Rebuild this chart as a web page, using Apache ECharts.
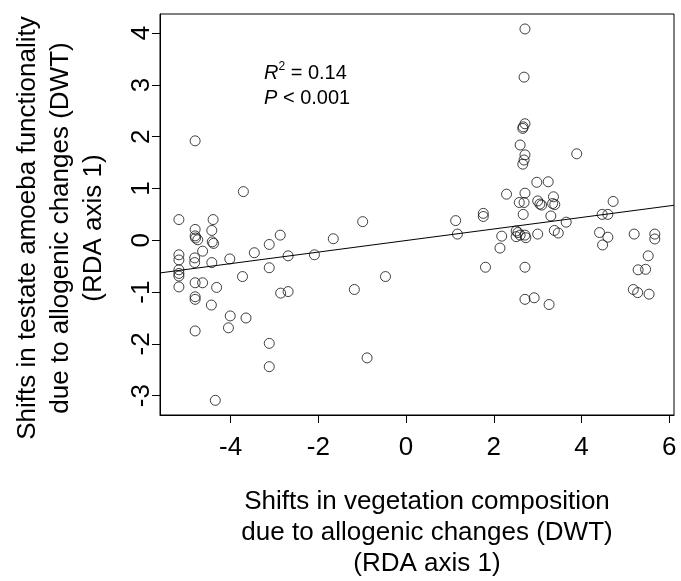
<!DOCTYPE html>
<html>
<head>
<meta charset="utf-8">
<script src="https://cdn.jsdelivr.net/npm/echarts@6/dist/echarts.min.js"></script>
<style>
  html, body { margin: 0; padding: 0; background: #fff; }
  #chart { width: 681px; height: 581px; }
</style>
</head>
<body>
<div id="chart"></div>
<script>
// x: shifts in vegetation composition (RDA axis 1)
let vegShift = [
  -4.81, -3.71, -5.18, -4.81, -4.40, -4.43, -4.81, -4.80, -4.75, -4.42,
  -4.39, -4.64, -5.18, -5.18, -4.82, -4.82, -4.43, -4.02, -3.46, -3.12,
  -2.87, -2.69, -2.09, -1.66, -0.99, -5.18, -5.18, -5.18, -5.18, -4.81,
  -4.64, -4.32, -3.73, -3.12, -2.86, -2.69, -1.18, -0.47, -4.81, -4.81,
  -4.44, -4.01, -3.65, -4.05, -4.81, -3.12, -3.12, -0.89, -4.35,
  2.71, 2.69, 2.71, 2.67, 2.66, 2.60, 2.71, 2.69, 2.66, 3.89,
  2.98, 3.24, 2.29, 2.71, 2.58, 2.69, 3.00, 3.05, 3.09, 3.36,
  3.34, 3.39, 2.67, 3.30, 3.65, 1.76, 1.76, 1.13, 1.17, 2.18,
  2.14, 2.51, 2.55, 2.60, 2.51, 2.71, 2.73, 3.00, 3.38, 3.47,
  1.81, 2.71, 2.71, 2.92, 3.26, 4.72, 4.47, 4.60, 4.41, 4.60,
  4.48, 5.20, 5.67, 5.67, 5.52, 5.29, 5.46, 5.18, 5.28, 5.54
];
// y: shifts in testate amoeba functionality (RDA axis 1)
let amoebaShift = [
  1.92, 0.94, 0.40, 0.21, 0.40, 0.19, 0.085, 0.045, 0.01, -0.03,
  -0.06, -0.21, -0.28, -0.38, -0.34, -0.43, -0.43, -0.36, -0.24, -0.08,
  0.10, -0.30, -0.28, 0.03, 0.36, -0.57, -0.64, -0.69, -0.90, -0.82,
  -0.82, -0.91, -0.70, -0.53, -1.02, -0.99, -0.95, -0.70, -1.09, -1.14,
  -1.25, -1.46, -1.50, -1.69, -1.75, -1.99, -2.44, -2.27, -3.09,
  4.08, 3.15, 2.25, 2.19, 2.16, 1.84, 1.65, 1.55, 1.47, 1.67,
  1.12, 1.13, 0.89, 0.91, 0.73, 0.73, 0.76, 0.70, 0.68, 0.84,
  0.71, 0.69, 0.50, 0.47, 0.35, 0.52, 0.46, 0.38, 0.12, 0.08,
  -0.15, 0.18, 0.15, 0.10, 0.07, 0.10, 0.05, 0.12, 0.19, 0.14,
  -0.52, -0.52, -1.14, -1.11, -1.24, 0.75, 0.50, 0.50, 0.15, 0.06,
  -0.09, 0.12, 0.12, 0.025, -0.30, -0.57, -0.56, -0.95, -1.01, -1.04
];
// fitted regression line, drawn across the plot region
let fitLine = [[-5.611, -0.63], [6.108, 0.676]];
let xTicks = [-4, -2, 0, 2, 4, 6];
let yTicks = [-3, -2, -1, 0, 1, 2, 3, 4];
let xRange = [-5.611, 6.108];
let yRange = [-3.373, 4.369];

let points = vegShift.map((v, i) => [v, amoebaShift[i]]);
let font = "Liberation Sans, Arial, Helvetica, sans-serif";

var myChart = echarts.init(document.getElementById("chart"));
myChart.setOption({
  animation: false,
  backgroundColor: "#fff",
  grid: {
    left: 160,
    right: 7,
    top: 14,
    bottom: 166,
    show: true,
    borderColor: "#000",
    borderWidth: 1,
    backgroundColor: "transparent"
  },
  xAxis: {
    type: "value",
    min: xRange[0],
    max: xRange[1],
    axisLine: { show: true, onZero: false, lineStyle: { color: "#000", width: 1 } },
    axisTick: { show: true, length: 8, customValues: xTicks, lineStyle: { color: "#000" } },
    axisLabel: {
      customValues: xTicks,
      margin: 20,
      fontSize: 26,
      fontFamily: font,
      color: "#000"
    },
    splitLine: { show: false }
  },
  yAxis: {
    type: "value",
    min: yRange[0],
    max: yRange[1],
    axisLine: { show: true, onZero: false, lineStyle: { color: "#000", width: 1 } },
    axisTick: { show: true, length: 8, customValues: yTicks, lineStyle: { color: "#000" } },
    axisLabel: {
      customValues: yTicks,
      rotate: 90,
      margin: 5,
      fontSize: 26,
      fontFamily: font,
      color: "#000"
    },
    splitLine: { show: false }
  },
  graphic: [
    {
      type: "text",
      left: 264,
      top: 61,
      style: {
        text: "{i|R}{sup|2}{n| = 0.14}\n{i|P}{n| < 0.001}",
        rich: {
          i: { fontSize: 20, fontStyle: "italic", fontFamily: font, lineHeight: 25, fill: "#000" },
          sup: { fontSize: 12, fontFamily: font, lineHeight: 25, verticalAlign: "top", fill: "#000" },
          n: { fontSize: 20, fontFamily: font, lineHeight: 25, fill: "#000" }
        }
      }
    },
    {
      type: "text",
      x: 427,
      y: 533,
      style: {
        text: "Shifts in vegetation composition\ndue to allogenic changes (DWT)\n(RDA axis 1)",
        fontSize: 26,
        fontFamily: font,
        lineHeight: 31,
        textAlign: "center",
        textVerticalAlign: "middle",
        fill: "#000"
      }
    },
    {
      type: "text",
      x: 61,
      y: 228,
      rotation: Math.PI / 2,
      style: {
        text: "Shifts in testate amoeba functionality\ndue to allogenic changes (DWT)\n(RDA axis 1)",
        fontSize: 26,
        fontFamily: font,
        lineHeight: 33,
        textAlign: "center",
        textVerticalAlign: "middle",
        fill: "#000"
      }
    }
  ],
  series: [
    {
      type: "scatter",
      data: points,
      symbol: "circle",
      symbolSize: 10,
      itemStyle: { color: "rgba(0,0,0,0)", borderColor: "#111", borderWidth: 1 },
      silent: true
    },
    {
      type: "line",
      data: fitLine,
      showSymbol: false,
      lineStyle: { color: "#000", width: 1 },
      silent: true
    }
  ]
});
</script>
</body>
</html>
